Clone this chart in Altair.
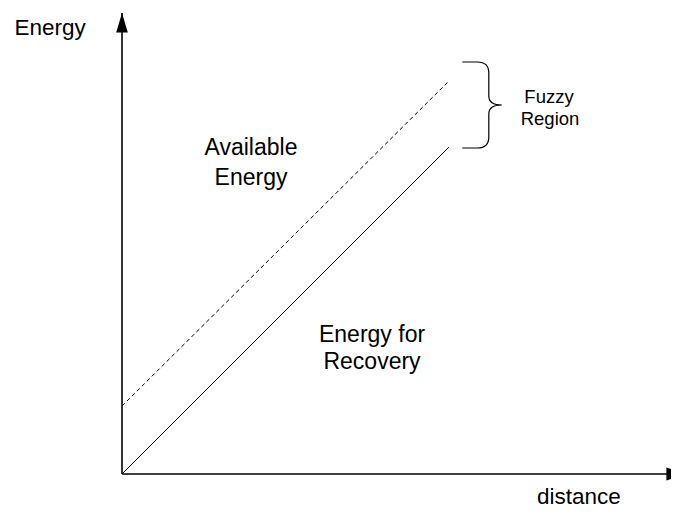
import altair as alt
import pandas as pd

# ---- data (diagram units: distance 0..100, energy 0..100) ----
seg_name = ["y_axis", "x_axis", "recovery", "available"]
seg_x = [0, 0, 0, 0]
seg_y = [0, 0, 0, 14.75]
seg_x2 = [0, 101.6, 58.9, 58.7]
seg_y2 = [100, 0, 70.9, 85.0]
seg_dash = ["solid", "solid", "solid", "dashed"]
seg_width = [1.6, 1.6, 1.0, 1.0]

arrow_x = [0, 101.6]
arrow_y = [100, 0]

brace_x = [65.1]
brace_y = [80.04]

label_text = ["Energy", "Available", "Energy", "Energy for", "Recovery",
              "Fuzzy", "Region", "distance"]
label_x = [-12.97, 23.24, 23.24, 45.05, 45.05, 76.94, 77.12, 82.34]
label_y = [95.23, 69.2, 62.69, 28.63, 22.78, 80.48, 75.7, -6.5]
label_size = [22.5, 23, 23, 23, 23, 18.5, 18.5, 22.5]

# ---- scales ----
xs = alt.Scale(domain=[0, 100], range=[114, 669])
ys = alt.Scale(domain=[0, 100], range=[466, 5])

segs = pd.DataFrame({"name": seg_name, "x": seg_x, "y": seg_y, "x2": seg_x2,
                     "y2": seg_y2, "dash": seg_dash, "w": seg_width})

solid = alt.Chart(segs[segs.dash == "solid"]).mark_rule(color="black").encode(
    x=alt.X("x:Q", scale=xs, axis=None),
    y=alt.Y("y:Q", scale=ys, axis=None),
    x2="x2:Q", y2="y2:Q",
    strokeWidth=alt.StrokeWidth("w:Q", scale=None),
)
dashed = alt.Chart(segs[segs.dash == "dashed"]).mark_rule(
    color="black", strokeDash=[4, 3], strokeWidth=1.0).encode(
    x=alt.X("x:Q", scale=xs, axis=None),
    y=alt.Y("y:Q", scale=ys, axis=None),
    x2="x2:Q", y2="y2:Q",
)

up_arrow = alt.Chart(pd.DataFrame({"x": arrow_x[:1], "y": arrow_y[:1]})).mark_point(
    shape="M0,0L5.8,19.5L-5.8,19.5Z", size=4, filled=True, color="black",
    opacity=1, strokeWidth=0).encode(
    x=alt.X("x:Q", scale=xs, axis=None), y=alt.Y("y:Q", scale=ys, axis=None))
right_arrow = alt.Chart(pd.DataFrame({"x": arrow_x[1:], "y": arrow_y[1:]})).mark_point(
    shape="M0,0L-19.5,-6.5L-19.5,6.5Z", size=4, filled=True, color="black",
    opacity=1, strokeWidth=0).encode(
    x=alt.X("x:Q", scale=xs, axis=None), y=alt.Y("y:Q", scale=ys, axis=None))

brace_path = ("M-21,-43L-6,-43Q5.5,-43 5.5,-32L5.5,-9Q5.5,0 18.5,0"
              "Q5.5,0 5.5,9L5.5,32Q5.5,43 -6,43L-21,43")
brace = alt.Chart(pd.DataFrame({"x": brace_x, "y": brace_y})).mark_point(
    shape=brace_path, size=4, filled=False, color="black", opacity=1,
    strokeWidth=1.2).encode(
    x=alt.X("x:Q", scale=xs, axis=None), y=alt.Y("y:Q", scale=ys, axis=None))

labels = alt.Chart(pd.DataFrame({"t": label_text, "x": label_x, "y": label_y,
                                 "s": label_size})).mark_text(
    font="Liberation Sans", color="black", align="center",
    baseline="alphabetic").encode(
    x=alt.X("x:Q", scale=xs, axis=None),
    y=alt.Y("y:Q", scale=ys, axis=None),
    text="t:N",
    size=alt.Size("s:Q", scale=None),
)

chart = alt.layer(solid, dashed, up_arrow, right_arrow, brace, labels).properties(
    width=663, height=500, autosize="none", padding=0,
).configure_view(stroke=None)

chart.save("out.html", embed_options={"renderer": "svg", "actions": False})
